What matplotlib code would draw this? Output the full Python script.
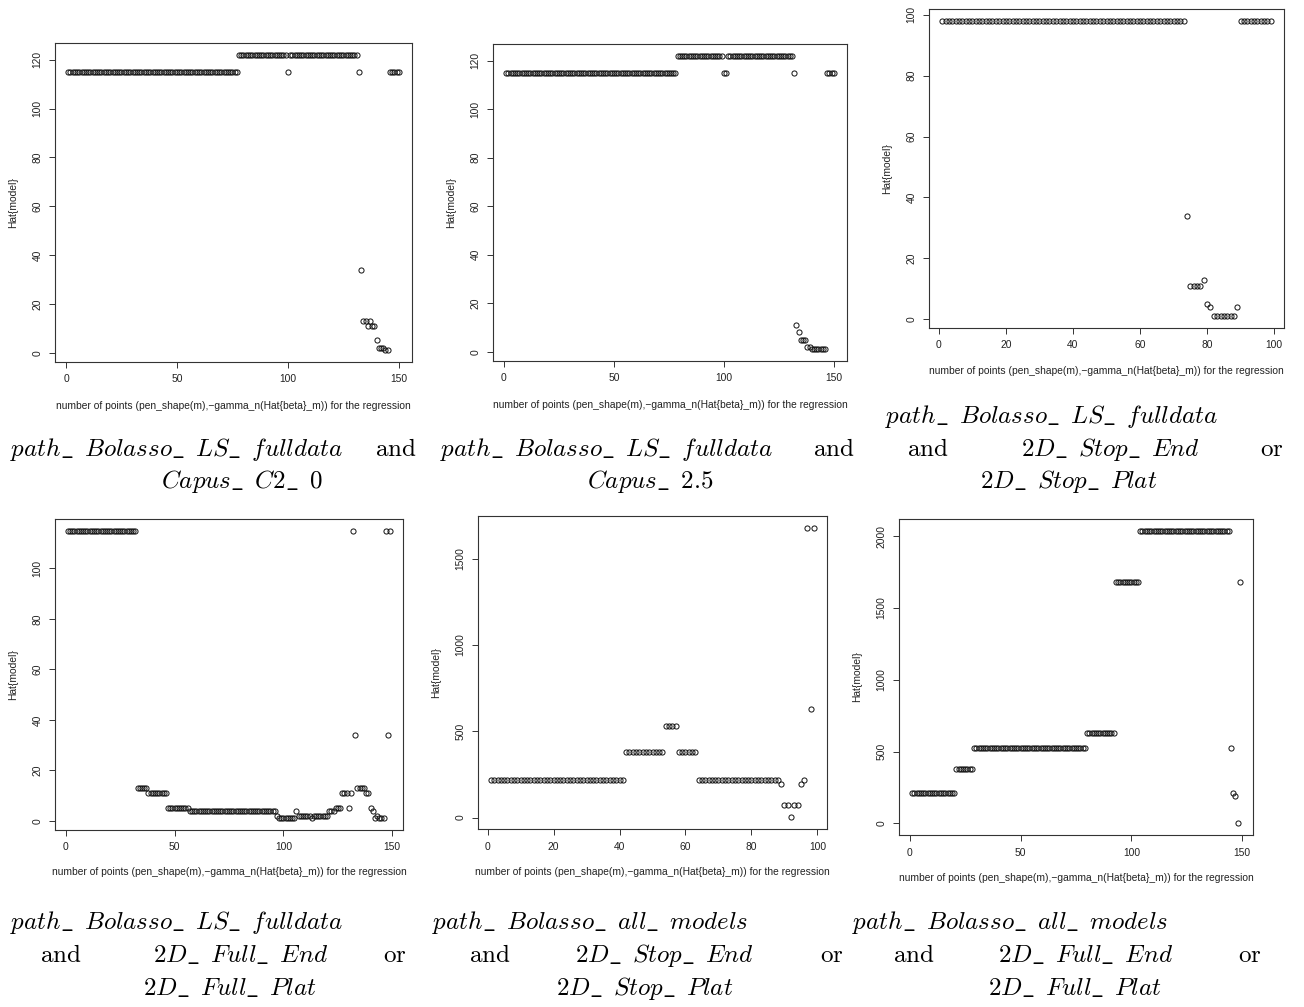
import numpy as np
import matplotlib
matplotlib.use('Agg')
import matplotlib.pyplot as plt

plt.rcParams.update({
    'font.family': 'Liberation Sans',
    'mathtext.fontset': 'cm',
    'font.size': 7.4,
})

W, H = 1304, 1007

# ─── Data: (value, run length) ──────────────────────────────────────────────
P1_RUNS = [(115, 77), (122, 22), (115, 1), (122, 31), (115, 1), (34, 1),
           (13, 2), (11, 1), (13, 1), (11, 2), (5, 1), (2, 3), (1, 2), (115, 5)]
P2_RUNS = [(115, 78), (122, 21), (115, 2), (122, 30), (115, 1), (11, 1),
           (8, 1), (5, 3), (2, 2), (1, 7), (115, 4)]
P3_RUNS = [(98, 73), (34, 1), (11, 4), (13, 1), (5, 1), (4, 1), (1, 7),
           (4, 1), (98, 10)]
P4_RUNS = [(115, 32), (13, 5), (11, 9), (5, 10), (4, 40), (2, 1), (1, 8),
           (4, 1), (2, 6), (1, 1), (2, 7), (4, 3), (5, 3), (11, 3), (5, 1),
           (11, 1), (115, 1), (34, 1), (13, 4), (11, 2), (5, 1), (4, 1),
           (1, 1), (2, 1), (1, 3), (115, 1), (34, 1), (115, 1)]
P5_RUNS = [(215, 41), (378, 12), (528, 4), (378, 6), (215, 25), (192, 1),
           (73, 2), (1, 1), (73, 2), (192, 1), (215, 1), (1680, 1), (630, 1),
           (1680, 1)]
P6_RUNS = [(215, 20), (378, 8), (528, 51), (630, 13), (1680, 11),
           (2037, 41), (528, 1), (215, 1), (192, 1), (1, 1), (1680, 1)]

P1_YTICKS = [0, 20, 40, 60, 80, 100, 120]
P3_YTICKS = [0, 20, 40, 60, 80, 100]
P5_YTICKS = [0, 500, 1000, 1500]
P6_YTICKS = [0, 500, 1000, 1500, 2000]
XTICKS_150 = [0, 50, 100, 150]
XTICKS_100 = [0, 20, 40, 60, 80, 100]

XLABEL = 'number of points (pen_shape(m),\u2212gamma_n(Hat{beta}_m)) for the regression'
YLABEL = 'Hat{model}'

# axes boxes in pixels: left, top, right, bottom
PANELS = [
    dict(runs=P1_RUNS, box=(55, 43, 412, 362), xt=XTICKS_150, yt=P1_YTICKS, xl_y=406),
    dict(runs=P2_RUNS, box=(493, 44, 847, 361), xt=XTICKS_150, yt=P1_YTICKS, xl_y=405),
    dict(runs=P3_RUNS, box=(929, 9, 1284, 328), xt=XTICKS_100, yt=P3_YTICKS, xl_y=371),
    dict(runs=P4_RUNS, box=(55, 519, 403, 830), xt=XTICKS_150, yt=P3_YTICKS, xl_y=872),
    dict(runs=P5_RUNS, box=(478, 516, 827, 829), xt=XTICKS_100, yt=P5_YTICKS, xl_y=872),
    dict(runs=P6_RUNS, box=(899, 519, 1253, 835), xt=XTICKS_150, yt=P6_YTICKS, xl_y=878),
]


def IT(s):
    # LaTeX-ish italic with "\_ " gaps like the original captions
    return r'$\mathit{' + s.replace('_', r'\_\ \,') + '}$'


# captions: (baseline y, [(text, anchor, x)])
CAPTIONS = [
    (456, [(IT('path_Bolasso_LS_fulldata'), 'left', 10), ('and', 'right', 417)]),
    (488, [(IT('Capus_C2_0'), 'center', 242)]),
    (456, [(IT('path_Bolasso_LS_fulldata'), 'left', 440), ('and', 'right', 855)]),
    (488, [(IT('Capus_2.5'), 'center', 650)]),
    (423, [(IT('path_Bolasso_LS_fulldata'), 'center', 1052)]),
    (456, [('and', 'center', 928), (IT('2D_Stop_End'), 'center', 1110), ('or', 'center', 1272)]),
    (488, [(IT('2D_Stop_Plat'), 'center', 1069)]),
    (929, [(IT('path_Bolasso_LS_fulldata'), 'left', 10)]),
    (962, [('and', 'center', 61), (IT('2D_Full_End'), 'center', 241), ('or', 'center', 395)]),
    (995, [(IT('2D_Full_Plat'), 'center', 230)]),
    (929, [(IT('path_Bolasso_all_models'), 'left', 432)]),
    (962, [('and', 'center', 490), (IT('2D_Stop_End'), 'center', 664), ('or', 'center', 832)]),
    (995, [(IT('2D_Stop_Plat'), 'center', 645)]),
    (929, [(IT('path_Bolasso_all_models'), 'left', 852)]),
    (962, [('and', 'center', 914), (IT('2D_Full_End'), 'center', 1086), ('or', 'center', 1250)]),
    (995, [(IT('2D_Full_Plat'), 'center', 1075)]),
]

fig = plt.figure(figsize=(W / 100, H / 100), dpi=100)

for p in PANELS:
    l, t, r, b = p['box']
    ax = fig.add_axes([l / W, 1 - b / H, (r - l) / W, (b - t) / H])
    y = np.repeat([v for v, n in p['runs']], [n for v, n in p['runs']])
    x = np.arange(1, len(y) + 1)
    ax.plot(x, y, ls='none', marker='o', ms=3.7, mfc='none', mec='#111111', mew=0.7)

    # R style 4% axis expansion
    dx = 0.04 * (x.max() - x.min())
    dy = 0.04 * (y.max() - y.min())
    ax.set_xlim(x.min() - dx, x.max() + dx)
    ax.set_ylim(y.min() - dy, y.max() + dy)
    ax.set_xticks(p['xt'])
    ax.set_yticks(p['yt'])
    ax.tick_params(direction='out', length=4, width=0.7, pad=5, labelsize=7.4,
                   color='#333333', labelcolor='#222222')
    for lab in ax.get_yticklabels():
        lab.set_rotation(90)
        lab.set_va('center')
    for sp in ax.spines.values():
        sp.set_linewidth(0.8)
        sp.set_color('#333333')

    fig.text((l + r) / 2 / W, 1 - p['xl_y'] / H, XLABEL, ha='center', va='center',
             fontsize=7.4, color='#222222')
    fig.text((l - 42) / W, 1 - (t + b) / 2 / H, YLABEL, ha='center', va='center',
             rotation=90, fontsize=7.4, color='#222222')

for yb, pieces in CAPTIONS:
    for txt, ha, xp in pieces:
        s = txt if txt.startswith('$') else r'$\mathrm{' + txt + '}$'
        fig.text(xp / W, 1 - yb / H, s, ha=ha, va='baseline', fontsize=18)

fig.savefig('out.png', dpi=100)
